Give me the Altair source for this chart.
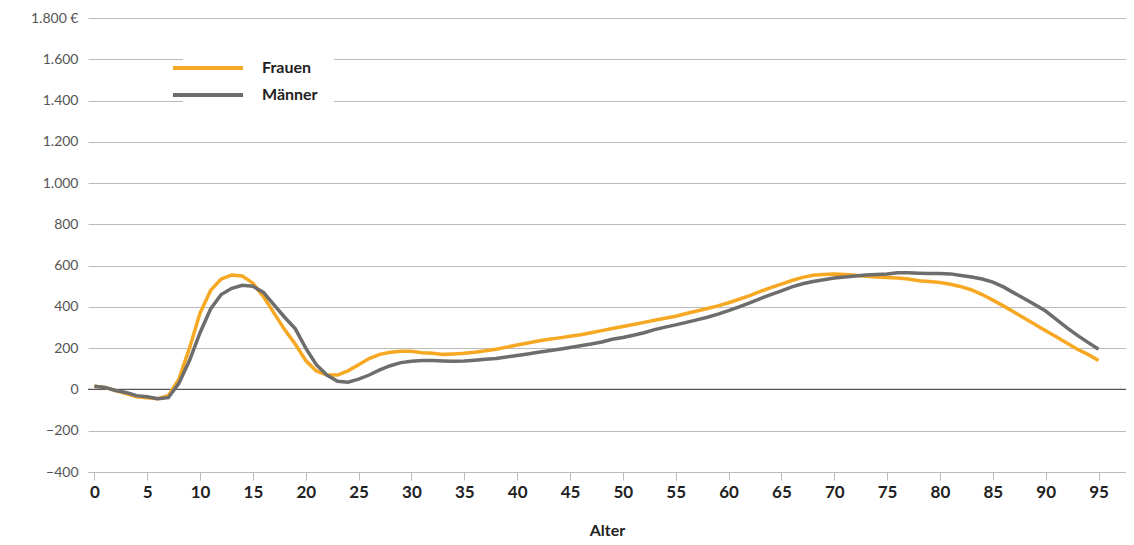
import altair as alt
import pandas as pd

ages = list(range(96))
frauen = [15, 10, -5, -20, -35, -40, -45, -30, 50, 200, 370, 480, 535, 555, 550, 515, 450, 370, 290, 220,
          140, 90, 70, 70, 90, 120, 150, 170, 180, 185, 185, 178, 175, 170, 172, 175, 180, 188, 195, 205,
          215, 225, 235, 243, 250, 258, 265, 275, 285, 295, 305, 315, 325, 335, 345, 355, 368, 380, 392, 405,
          420, 437, 455, 475, 493, 510, 528, 543, 553, 557, 560, 557, 553, 548, 545, 542, 540, 535, 527, 523,
          518, 510, 498, 482, 460, 433, 405, 375, 345, 315, 285, 255, 225, 195, 170, 140]
maenner = [15, 10, -5, -15, -30, -35, -45, -40, 30, 140, 275, 390, 460, 490, 505, 500, 470, 410, 350, 295,
           200, 120, 70, 40, 35, 50, 70, 95, 115, 130, 137, 140, 140, 138, 137, 138, 142, 146, 150, 157,
           165, 172, 180, 188, 195, 203, 212, 220, 230, 243, 252, 263, 275, 290, 302, 313, 325, 337, 350, 365,
           382, 400, 420, 440, 460, 478, 497, 512, 523, 532, 540, 545, 550, 555, 557, 560, 565, 565, 563, 562,
           562, 560, 552, 545, 535, 520, 497, 468, 440, 410, 380, 340, 300, 262, 228, 195]

df = pd.concat([
    pd.DataFrame({"Alter": ages, "Wert": frauen, "Gruppe": "Frauen"}),
    pd.DataFrame({"Alter": ages, "Wert": maenner, "Gruppe": "Männer"}),
])

font = "Lato"

lines = alt.Chart(df).mark_line(strokeWidth=3.5).encode(
    x=alt.X("Alter:Q", title="Alter", scale=alt.Scale(domain=[-0.6, 97.6], nice=False, zero=False),
            axis=alt.Axis(values=list(range(0, 100, 5)), grid=False, domainColor="#bbbbbb",
                          tickColor="#bbbbbb", tickSize=8, labelFontSize=17, labelFontWeight="bold",
                          labelColor="#222222", labelPadding=4, titleFontSize=16, titleFontWeight="bold",
                          titleColor="#222222", titlePadding=22, labelFont=font, titleFont=font)),
    y=alt.Y("Wert:Q", title=None, scale=alt.Scale(domain=[-400, 1800], nice=False),
            axis=alt.Axis(values=list(range(-400, 2000, 200)), domain=False, ticks=False,
                          gridColor="#bbbbbb", labelFontSize=14, labelColor="#555555", labelPadding=10,
                          labelFont=font,
                          labelExpr="replace(format(datum.value, ',d'), ',', '.') + (datum.value == 1800 ? ' €' : '')")),
    color=alt.Color("Gruppe:N", scale=alt.Scale(domain=["Frauen", "Männer"], range=["#f7a823", "#6d6d6d"]),
                    legend=alt.Legend(title=None, orient="none", legendX=95, legendY=25, fillColor="white",
                                      padding=16, symbolType="M-5,0L5,0", symbolSize=196, symbolStrokeWidth=4,
                                      labelFontSize=16, labelFontWeight="bold", labelColor="#222222",
                                      labelFont=font, rowPadding=10, labelOffset=45)),
)

zero = alt.Chart(pd.DataFrame({"y": [0]})).mark_rule(color="#555555", strokeWidth=1.2).encode(y="y:Q")

chart = alt.layer(zero, lines).properties(
    width=1038, height=454, padding={"left": 80, "top": 10, "right": 0, "bottom": 65},
    autosize=alt.AutoSizeParams(type="none"),
).configure_view(stroke=None)

chart.save("out.html", embed_options={"renderer": "svg", "actions": False})
